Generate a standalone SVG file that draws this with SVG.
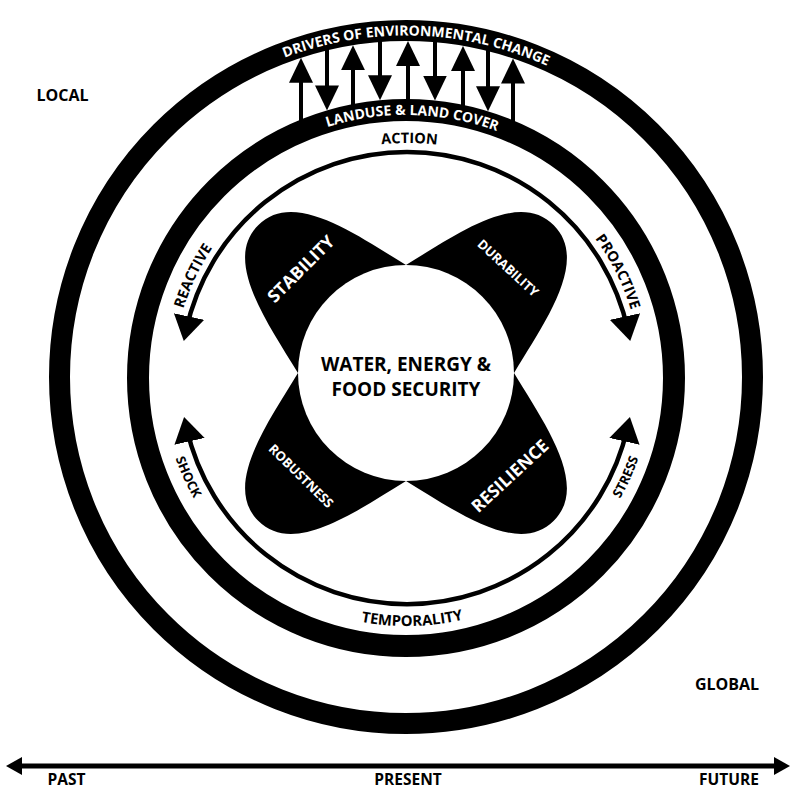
<svg xmlns="http://www.w3.org/2000/svg" width="794" height="789" viewBox="0 0 794 789">
<style>
  text { font-family: "Open Sans", "Liberation Sans", sans-serif; font-weight: 700; }
  .w { fill: #fff; }
  .k { fill: #000; }
  .ring { fill: none; stroke: #000; }
  .thin { fill: none; stroke: #000; stroke-width: 4.5; }
  .shaft { fill: none; stroke: #000; stroke-width: 4; }
  .axis { fill: none; stroke: #000; stroke-width: 5; }
</style>
<defs>
  <marker id="hd" markerUnits="userSpaceOnUse" markerWidth="25" markerHeight="24" viewBox="0 0 25 24" refX="10" refY="12" orient="auto">
    <path d="M0,0 L25,12 L0,24 z" fill="#000"/>
  </marker>
  <marker id="ta" markerUnits="userSpaceOnUse" markerWidth="25" markerHeight="31" viewBox="0 0 25 31" refX="14" refY="15.5" orient="auto-start-reverse">
    <path d="M0,0 L25,15.5 L0,31 z" fill="#000"/>
  </marker>
  <marker id="ax" markerUnits="userSpaceOnUse" markerWidth="16" markerHeight="18" viewBox="0 0 16 18" refX="6" refY="9" orient="auto-start-reverse">
    <path d="M0,0 L16,9 L0,18 z" fill="#000"/>
  </marker>
  <path id="lobe" d="M76.4,-76.4 C135,-62 209,-50 209,0 C209,50 135,62 76.4,76.4 Z" fill="#000"/>
  <path id="tpDrivers" d="M164.5,135.5 A341.5,341.5 0 0 1 647.5,135.5" fill="none"/>
  <path id="tpLand" d="M220,192 A263,263 0 0 1 592,192" fill="none"/>
  <path id="tpAction" d="M240.8,211.8 A235,235 0 0 1 573.2,211.8" fill="none"/>
  <path id="tpOut" d="M241.5,212.5 A234,234 0 0 1 572.5,212.5" fill="none"/>
  <path id="tpIn" d="M233.8,551.2 A245,245 0 0 0 580.2,551.2" fill="none"/>
  <path id="tpTemp" d="M231.6,553.4 A248,248 0 0 0 582.4,553.4" fill="none"/>
</defs>

<rect x="0" y="0" width="794" height="789" fill="#fff"/>

<g id="ring-drivers">
  <circle class="ring" cx="406" cy="377" r="346.5" stroke-width="21"/>
  <text class="w" font-size="14" transform="rotate(1.8 406 377)"><textPath href="#tpDrivers" startOffset="50%" text-anchor="middle">DRIVERS OF ENVIRONMENTAL CHANGE</textPath></text>
</g>

<g id="ring-landuse">
  <circle class="ring" cx="406" cy="378" r="268" stroke-width="22"/>
  <text class="w" font-size="14" transform="rotate(1.4 406 378)"><textPath href="#tpLand" startOffset="50%" text-anchor="middle">LANDUSE &amp; LAND COVER</textPath></text>
</g>

<g id="connectors">
  <line class="shaft" x1="301" y1="122" x2="301" y2="72.8" marker-end="url(#hd)"/>
  <line class="shaft" x1="327" y1="48" x2="327" y2="95.4" marker-end="url(#hd)"/>
  <line class="shaft" x1="353" y1="107" x2="353" y2="60.2" marker-end="url(#hd)"/>
  <line class="shaft" x1="380" y1="40" x2="380" y2="85.2" marker-end="url(#hd)"/>
  <line class="shaft" x1="408" y1="102" x2="408" y2="56" marker-end="url(#hd)"/>
  <line class="shaft" x1="435" y1="40" x2="435" y2="85.5" marker-end="url(#hd)"/>
  <line class="shaft" x1="463" y1="108" x2="463" y2="60.9" marker-end="url(#hd)"/>
  <line class="shaft" x1="488" y1="48" x2="488" y2="96.3" marker-end="url(#hd)"/>
  <line class="shaft" x1="513" y1="123" x2="513" y2="73.5" marker-end="url(#hd)"/>
  <path class="thin" d="M186.1,330.2 A226,226 0 0 1 627.9,330.2" marker-start="url(#ta)" marker-end="url(#ta)"/>
  <path class="thin" d="M186.5,427.7 A226,226 0 0 0 627.5,427.7" marker-start="url(#ta)" marker-end="url(#ta)"/>
  <line class="axis" x1="16" y1="766" x2="780" y2="766" marker-start="url(#ax)" marker-end="url(#ax)"/>
</g>

<g id="label-action">
  <text class="k" font-size="14.5" transform="rotate(0.6 407 378)"><textPath href="#tpAction" startOffset="50%" text-anchor="middle">ACTION</textPath></text>
</g>
<g id="label-reactive">
  <text class="k" font-size="14.5" transform="rotate(-64.5 407 378)"><textPath href="#tpOut" startOffset="50%" text-anchor="middle">REACTIVE</textPath></text>
</g>
<g id="label-proactive">
  <text class="k" font-size="14.5" transform="rotate(63.3 407 378)"><textPath href="#tpOut" startOffset="50%" text-anchor="middle">PROACTIVE</textPath></text>
</g>
<g id="label-shock">
  <text class="k" font-size="13" transform="rotate(65.7 407 378)"><textPath href="#tpIn" startOffset="50%" text-anchor="middle">SHOCK</textPath></text>
</g>
<g id="label-stress">
  <text class="k" font-size="13" transform="rotate(-65.7 407 378)"><textPath href="#tpIn" startOffset="50%" text-anchor="middle">STRESS</textPath></text>
</g>
<g id="label-temporality">
  <text class="k" font-size="14.8" transform="rotate(-1.2 407 378)"><textPath href="#tpTemp" startOffset="50%" text-anchor="middle">TEMPORALITY</textPath></text>
</g>

<g id="stability">
  <use href="#lobe" transform="translate(406,373) rotate(-135)"/>
  <text class="w" font-size="17.5" text-anchor="middle" transform="translate(301,269) rotate(-45)" x="0" y="6">STABILITY</text>
</g>
<g id="durability">
  <use href="#lobe" transform="translate(406,373) rotate(-45)"/>
  <text class="w" font-size="13" text-anchor="middle" transform="translate(508,268) rotate(42.5)" x="0" y="4.6">DURABILITY</text>
</g>
<g id="robustness">
  <use href="#lobe" transform="translate(406,373) rotate(135)"/>
  <text class="w" font-size="13" text-anchor="middle" transform="translate(301,476) rotate(44.5)" x="0" y="4.6">ROBUSTNESS</text>
</g>
<g id="resilience">
  <use href="#lobe" transform="translate(406,373) rotate(45)"/>
  <text class="w" font-size="17.5" text-anchor="middle" transform="translate(510,476) rotate(-42.6)" x="0" y="6">RESILIENCE</text>
</g>

<g id="security">
  <circle cx="406" cy="373" r="108" fill="#fff"/>
  <text class="k" font-size="19" text-anchor="middle" x="406" y="371">WATER, ENERGY &amp;</text>
  <text class="k" font-size="19" text-anchor="middle" x="406" y="396">FOOD SECURITY</text>
</g>

<g id="label-local"><text class="k" font-size="16" text-anchor="middle" x="62.5" y="101">LOCAL</text></g>
<g id="label-global"><text class="k" font-size="16" text-anchor="middle" x="727" y="690">GLOBAL</text></g>
<g id="label-past"><text class="k" font-size="15.5" text-anchor="middle" x="66.5" y="784.5">PAST</text></g>
<g id="label-present"><text class="k" font-size="15.5" text-anchor="middle" x="408" y="784.5">PRESENT</text></g>
<g id="label-future"><text class="k" font-size="15.5" text-anchor="middle" x="729" y="784.5">FUTURE</text></g>
</svg>
